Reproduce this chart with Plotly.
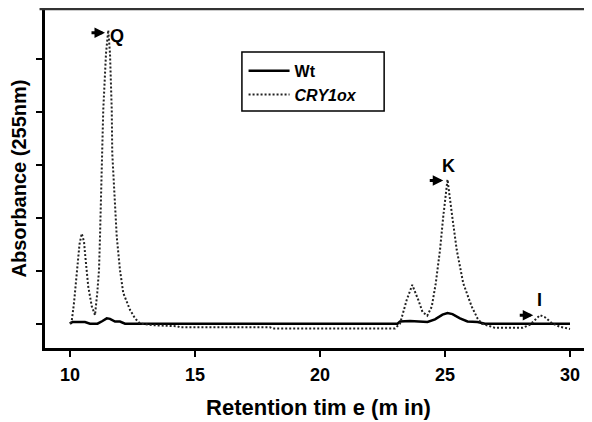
import plotly.graph_objects as go

# ---- data ----
wt_time = [10.0, 10.1, 10.4, 10.6, 10.8, 11.1, 11.3, 11.47, 11.6, 11.8, 12.0, 12.2,
           23.1, 23.2, 23.6, 24.0, 24.3, 24.6, 24.9, 25.1, 25.3, 25.6, 25.9, 26.3, 26.6, 30.0]
wt_abs = [0.0, 0.03, 0.03, 0.03, 0.0, 0.0, 0.05, 0.1, 0.09, 0.04, 0.04, 0.0,
          0.0, 0.04, 0.05, 0.04, 0.03, 0.08, 0.17, 0.2, 0.18, 0.1, 0.04, 0.03, 0.0, 0.0]

cry_time = [10.0, 10.07, 10.16, 10.27, 10.38, 10.47, 10.56, 10.6, 10.73, 10.87, 11.0,
            11.09, 11.16, 11.2, 11.24, 11.29, 11.33, 11.44, 11.53, 11.6, 11.67, 11.69,
            11.8, 11.87, 12.0, 12.13, 12.4, 12.6, 12.8, 13.3, 14.3, 14.4, 18.0, 18.1,
            23.0, 23.2, 23.47, 23.69, 23.93, 24.1, 24.29, 24.47, 24.63, 24.8, 24.93,
            25.1, 25.29, 25.47, 25.73, 26.07, 26.3, 26.47, 27.0, 28.1, 28.4, 28.6,
            28.8, 29.0, 29.3, 29.6, 30.0]
cry_abs = [0.0, 0.05, 0.39, 1.01, 1.5, 1.7, 1.55, 1.33, 0.7, 0.33, 0.16,
           0.58, 1.01, 1.64, 2.27, 3.22, 4.03, 5.1, 5.54, 5.1, 4.03, 3.22,
           2.27, 1.64, 1.01, 0.58, 0.26, 0.1, 0.0, -0.03, -0.05, -0.07, -0.07, -0.09,
           -0.09, 0.0, 0.45, 0.73, 0.45, 0.22, 0.15, 0.32, 0.76, 1.39, 2.02,
           2.72, 2.02, 1.39, 0.76, 0.32, 0.1, 0.0, -0.08, -0.08, -0.02, 0.08,
           0.16, 0.12, 0.0, -0.06, -0.1]

x_ticks = [10, 15, 20, 25, 30]
y_ticks = [0, 1, 2, 3, 4, 5]

peak_labels = ["Q", "K", "I"]
peak_label_x = [11.89, 25.13, 28.77]
peak_label_y = [5.43, 2.98, 0.45]
arrow_x = [11.4, 24.93, 28.53]
arrow_y = [5.49, 2.70, 0.16]

FONT = "Liberation Sans, Arial, sans-serif"

fig = go.Figure()
fig.add_trace(go.Scatter(x=wt_time, y=wt_abs, mode="lines", name="Wt",
                         line=dict(color="#000000", width=2.5)))
fig.add_trace(go.Scatter(x=cry_time, y=cry_abs, mode="lines", name="<i>CRY1ox</i>",
                         line=dict(color="#222222", width=2, dash="2px,2px")))

for lab, lx, ly in zip(peak_labels, peak_label_x, peak_label_y):
    fig.add_annotation(x=lx, y=ly, text="<b>%s</b>" % lab, showarrow=False,
                       font=dict(family=FONT, size=18, color="#000"))
for axx, ayy in zip(arrow_x, arrow_y):
    fig.add_annotation(x=axx, y=ayy, ax=-15, ay=0, text="", showarrow=True,
                       arrowhead=2, arrowsize=0.7, arrowwidth=3, arrowcolor="#000",
                       standoff=0, startstandoff=0)

# top frame line
fig.add_shape(type="line", xref="paper", yref="paper", x0=-0.01, x1=1.0, y0=1.0, y1=1.0,
              line=dict(color="#333333", width=2.5))
# legend frame
fig.add_shape(type="rect", xref="paper", yref="paper", x0=0.360, x1=0.620, y0=0.699, y1=0.873,
              line=dict(color="#000000", width=1.5), fillcolor="rgba(0,0,0,0)")

# page body has an 8px margin: the figure is sized and offset to compensate
fig.update_layout(
    width=584, height=414,
    margin=dict(l=37, r=0, t=1, b=74),
    paper_bgcolor="white", plot_bgcolor="white",
    font=dict(family=FONT, color="#000"),
    showlegend=True,
    legend=dict(x=0.363, y=0.868, xanchor="left", yanchor="top",
                borderwidth=0, bgcolor="rgba(0,0,0,0)",
                itemwidth=41,
                font=dict(family=FONT, size=16, color="#000", weight="bold")),
    xaxis=dict(range=[9.0, 30.88], tickvals=x_ticks, showgrid=False, zeroline=False,
               showline=True, linecolor="#000", linewidth=2.5,
               ticks="outside", ticklen=6, tickwidth=2, tickcolor="#000",
               ticklabelstandoff=3,
               tickfont=dict(family=FONT, size=18, weight="bold"),
               title=dict(text="Retention tim e (m in)", standoff=16,
                          font=dict(family=FONT, size=22, weight="bold"))),
    yaxis=dict(range=[-0.46, 5.94], tickvals=y_ticks, showgrid=False, zeroline=False,
               showline=True, linecolor="#000", linewidth=2.5,
               ticks="outside", ticklen=6, tickwidth=2, tickcolor="#000",
               showticklabels=False,
               title=dict(text="Absorbance (255nm)", standoff=6,
                          font=dict(family=FONT, size=20, weight="bold"))),
)

fig.write_html("out.html")
